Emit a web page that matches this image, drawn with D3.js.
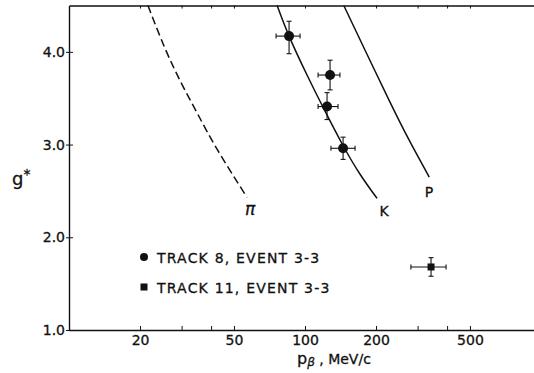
<!DOCTYPE html>
<html><head><meta charset="utf-8">
<script src="https://cdn.jsdelivr.net/npm/d3@7"></script>
<style>
  body { margin: 0; background: #fff; }
  text { font-family: "DejaVu Sans", sans-serif; fill: #111; stroke: #111; stroke-width: 0.3px; }
</style>
</head><body>
<svg id="chart" width="534" height="373"></svg>
<script>
// Track 8, event 3-3 (filled circles): momentum, g*, and error limits
const track8P   = [85.6, 127.7, 124, 145];
const track8G   = [4.17, 3.75, 3.41, 2.96];
const track8PLo = [75.4, 113.6, 113.6, 128.8];
const track8PHi = [95.3, 140.6, 138, 163];
const track8GLo = [3.98, 3.59, 3.27, 2.84];
const track8GHi = [4.33, 3.91, 3.56, 3.08];

// Track 11, event 3-3 (filled square)
const track11P   = [342];
const track11G   = [1.68];
const track11PLo = [281];
const track11PHi = [396];
const track11GLo = [1.58];
const track11GHi = [1.78];

// Expected g* vs momentum for each particle hypothesis
const pionP   = [21.6, 25.5, 30.1, 35.6, 42.4, 56.8];
const pionG   = [4.5, 4.04, 3.65, 3.30, 2.95, 2.43];
const kaonP   = [76.2, 85.6, 102.0, 121.6, 144.9, 171.1, 201.9];
const kaonG   = [4.5, 4.17, 3.75, 3.36, 2.99, 2.68, 2.42];
const protonP = [146, 179.5, 227, 276, 336];
const protonG = [4.5, 4.02, 3.48, 3.05, 2.65];

// Axis ticks
const xTicks = [20, 50, 100, 200, 500];
const xMinorTicks = [30, 40, 300, 400];
const yTicks = [1, 2, 3, 4];

const legendLabels = ["TRACK 8, EVENT 3-3", "TRACK 11, EVENT 3-3"];

const svg = d3.select("#chart");
const ink = "#111";

const x = d3.scaleLog().domain([10, 1000]).range([69, 541]);
const y = d3.scaleLinear().domain([1, 4.5]).range([330, 5.5]);

// Bottom axis: ticks point into the plot
const axisB = svg.append("g").attr("transform", `translate(0,${y(1)})`)
  .call(d3.axisBottom(x).tickValues(xTicks.concat(xMinorTicks))
    .tickSizeInner(-4).tickSizeOuter(0).tickPadding(5)
    .tickFormat(d => xTicks.includes(d) ? d3.format("d")(d) : ""));
// Top axis: short ticks hanging down
const axisT = svg.append("g").attr("transform", `translate(0,${y(4.5)})`)
  .call(d3.axisTop(x).tickValues(xTicks.concat(xMinorTicks))
    .tickSizeInner(-3).tickSizeOuter(0).tickFormat(""));
// Left axis
const axisL = svg.append("g").attr("transform", `translate(${x(10)},0)`)
  .call(d3.axisLeft(y).tickValues(yTicks)
    .tickSizeInner(3).tickSizeOuter(0).tickPadding(1)
    .tickFormat(d3.format(".1f")));
axisL.selectAll(".tick").append("line").attr("x2", 4);

[axisB, axisT, axisL].forEach(g => {
  g.select(".domain").attr("stroke", ink).attr("stroke-width", 1.4);
  g.selectAll(".tick line").attr("stroke", ink).attr("stroke-width", 1);
  g.selectAll(".tick text").attr("font-size", 14).attr("fill", ink)
    .attr("font-family", "DejaVu Sans, sans-serif");
});

// Particle curves
const line = d3.line().x(d => x(d[0])).y(d => y(d[1])).curve(d3.curveNatural);
const curves = [
  { p: pionP, g: pionG, dash: "8,4" },
  { p: kaonP, g: kaonG, dash: null },
  { p: protonP, g: protonG, dash: null }
];
curves.forEach(c => {
  svg.append("path")
    .datum(c.p.map((p, i) => [p, c.g[i]]))
    .attr("d", line)
    .attr("fill", "none").attr("stroke", ink).attr("stroke-width", 1.5)
    .attr("stroke-dasharray", c.dash);
});

// Curve labels
svg.append("text").attr("x", 250).attr("y", 215).attr("text-anchor", "middle")
  .attr("font-size", 17).attr("font-style", "italic").text("π");
svg.append("text").attr("x", 384).attr("y", 216).attr("text-anchor", "middle")
  .attr("font-size", 14).text("K");
svg.append("text").attr("x", 429).attr("y", 197).attr("text-anchor", "middle")
  .attr("font-size", 14).text("P");

// Error bars with caps
function errorBars(P, G, PLo, PHi, GLo, GHi) {
  const g = svg.append("g").attr("stroke", ink).attr("stroke-width", 1.1);
  P.forEach((p, i) => {
    const cx = x(p), cy = y(G[i]);
    const x0 = x(PLo[i]), x1 = x(PHi[i]), y0 = y(GLo[i]), y1 = y(GHi[i]);
    g.append("line").attr("x1", x0).attr("x2", x1).attr("y1", cy).attr("y2", cy);
    g.append("line").attr("x1", cx).attr("x2", cx).attr("y1", y0).attr("y2", y1);
    [x0, x1].forEach(xx => g.append("line").attr("x1", xx).attr("x2", xx)
      .attr("y1", cy - 2.5).attr("y2", cy + 2.5));
    [y0, y1].forEach(yy => g.append("line").attr("x1", cx - 2.5).attr("x2", cx + 2.5)
      .attr("y1", yy).attr("y2", yy));
  });
}
errorBars(track8P, track8G, track8PLo, track8PHi, track8GLo, track8GHi);
errorBars(track11P, track11G, track11PLo, track11PHi, track11GLo, track11GHi);

svg.append("g").selectAll("circle").data(track8P).join("circle")
  .attr("cx", d => x(d)).attr("cy", (d, i) => y(track8G[i])).attr("r", 5)
  .attr("fill", ink);
svg.append("g").selectAll("rect").data(track11P).join("rect")
  .attr("x", d => x(d) - 3.5).attr("y", (d, i) => y(track11G[i]) - 3.5)
  .attr("width", 7).attr("height", 7).attr("fill", ink);

// Legend
const legend = svg.append("g");
legend.append("circle").attr("cx", 144).attr("cy", 257).attr("r", 4).attr("fill", ink);
legend.append("rect").attr("x", 140.5).attr("y", 283.5).attr("width", 7).attr("height", 7).attr("fill", ink);
legendLabels.forEach((t, i) => {
  legend.append("text").attr("x", 157).attr("y", 263 + i * 30)
    .attr("font-size", 14).attr("letter-spacing", 1.2).text(t);
});

// Axis titles
const gLabel = svg.append("text").attr("x", 12).attr("y", 185).attr("font-size", 18);
gLabel.append("tspan").text("g");
gLabel.append("tspan").attr("dy", -6).attr("font-size", 14).text("*");

const xLabel = svg.append("text").attr("x", 297).attr("y", 364).attr("font-size", 14);
xLabel.append("tspan").attr("font-size", 16).text("p");
xLabel.append("tspan").attr("dy", 2).attr("font-size", 12).attr("font-style", "italic").text("β");
xLabel.append("tspan").attr("dy", -2).text(" , MeV/c");
</script>
</body></html>
